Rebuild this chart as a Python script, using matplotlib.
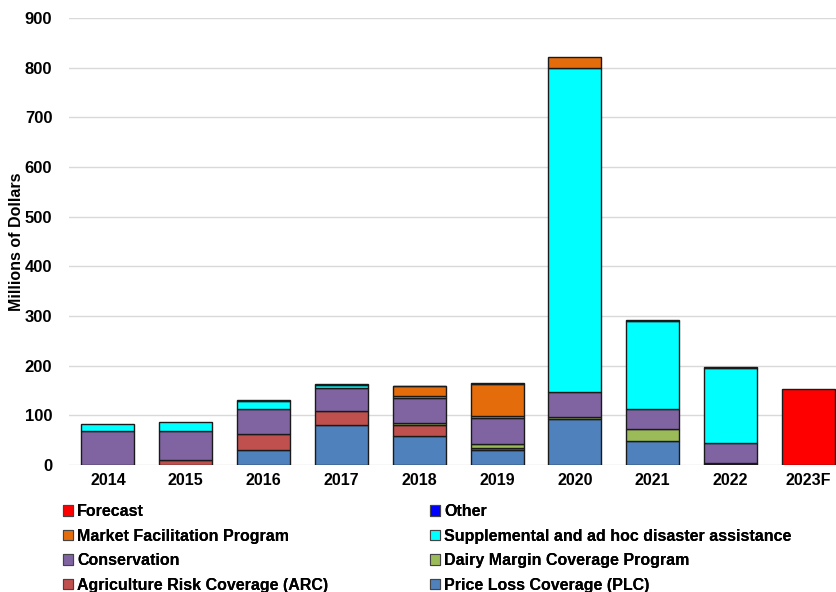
import matplotlib
matplotlib.use("Agg")
import matplotlib.pyplot as plt
import numpy as np
from matplotlib.patches import Patch

plt.rcParams['font.family'] = ['Liberation Sans', 'DejaVu Sans']
plt.rcParams['font.weight'] = 'bold'

years = ["2014", "2015", "2016", "2017", "2018", "2019", "2020", "2021", "2022", "2023F"]

plc          = [0, 0, 31, 80, 59, 30, 93, 48, 2, 0]
arc          = [0, 10, 31, 28, 21, 4, 0, 0, 0, 0]
dairy        = [0, 0, 0, 0, 4, 8, 3, 24, 2, 0]
conservation = [69, 58, 50, 47, 50, 53, 50, 40, 40, 0]
supplemental = [14, 18, 17, 6, 5, 3, 654, 178, 152, 0]
mfp          = [0, 0, 0, 0, 20, 66, 21, 0, 0, 0]
other        = [0, 0, 1, 2, 1, 1, 0, 2, 2, 0]
forecast     = [0, 0, 0, 0, 0, 0, 0, 0, 0, 153]

series = [
    ("Price Loss Coverage (PLC)", plc, "#4F81BD"),
    ("Agriculture Risk Coverage (ARC)", arc, "#C0504D"),
    ("Dairy Margin Coverage Program", dairy, "#9BBB59"),
    ("Conservation", conservation, "#8064A2"),
    ("Supplemental and ad hoc disaster assistance", supplemental, "#00FFFF"),
    ("Market Facilitation Program", mfp, "#E46C0A"),
    ("Other", other, "#0000FF"),
    ("Forecast", forecast, "#FF0000"),
]

fig = plt.figure(figsize=(8.37, 5.92), dpi=100)
ax = fig.add_axes([0.0824, 0.2145, 0.93, 0.7551])

x = np.arange(len(years))
bottom = np.zeros(len(years))
for name, vals, col in series:
    v = np.array(vals, dtype=float)
    m = v > 0
    ax.bar(x[m], v[m], bottom=bottom[m], width=0.68, color=col,
           edgecolor="#1a1a1a", linewidth=1.0, zorder=3)
    bottom += v

ax.set_ylim(0, 900)
ax.set_xlim(-0.5, len(years) - 0.5)
ax.set_yticks(np.arange(0, 901, 100))
ax.set_xticks(x)
ax.set_xticklabels(years)
ax.tick_params(axis='x', length=0, labelsize=11.5, pad=6)
ax.tick_params(axis='y', length=0, labelsize=12, pad=12)
for lab in ax.get_xticklabels() + ax.get_yticklabels():
    lab.set_fontweight('bold')
ax.grid(axis='y', color="#D9D9D9", linewidth=1.0, zorder=0)
for s in ax.spines.values():
    s.set_visible(False)
ax.set_ylabel("Millions of Dollars", fontsize=11.5, fontweight='bold')
ax.yaxis.set_label_coords(-0.058, 0.5)

lookup = {n: c for n, _, c in series}
col1 = ["Forecast", "Market Facilitation Program", "Conservation",
        "Agriculture Risk Coverage (ARC)"]
col2 = ["Other", "Supplemental and ad hoc disaster assistance",
        "Dairy Margin Coverage Program", "Price Loss Coverage (PLC)"]
kw = dict(loc='upper left', frameon=False, prop={'weight': 'bold', 'size': 11.5},
          handlelength=0.65, handleheight=0.65, handletextpad=0.25,
          labelspacing=0.6, borderaxespad=0, borderpad=0)
for names, xpos in ((col1, 63 / 837), (col2, 430 / 837)):
    hs = [Patch(facecolor=lookup[n], edgecolor="#444444", linewidth=0.8, label=n) for n in names]
    leg = fig.legend(handles=hs, bbox_to_anchor=(xpos, 1 - 504 / 592), **kw)
    fig.add_artist(leg)

fig.savefig("out.png", dpi=100)
